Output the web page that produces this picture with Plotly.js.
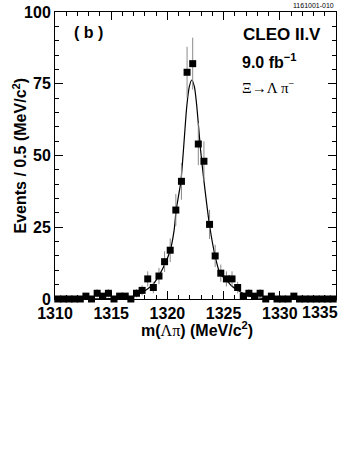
<!DOCTYPE html>
<html>
<head>
<meta charset="utf-8">
<script src="https://cdn.plot.ly/plotly-3.0.1.min.js"></script>
<style>
  html, body { margin: 0; padding: 0; background: #fff; }
  #plot { width: 346px; height: 461px; }
</style>
</head>
<body>
<div id="plot"></div>
<script>
// histogram: 50 bins of 0.5 MeV/c^2 from 1310 to 1335
var binStart = 1310.25;
var binWidth = 0.5;
var counts = [
  0, 0, 0, 0, 0, 1, 0, 2, 1, 2,
  0, 1, 1, 0, 2, 3, 7, 4, 8, 13,
  17, 31, 41, 79, 82, 54, 48, 26, 15, 9,
  7, 7, 4, 1, 2, 1, 2, 0, 1, 0,
  0, 0, 1, 0, 0, 0, 0, 0, 0, 0
];

// fit curve
var fitMass = [1310, 1314, 1315, 1316, 1316.7, 1317.2, 1317.7, 1318.2, 1318.7, 1319.0,
  1319.6, 1320.24, 1320.6, 1320.78, 1321.2, 1321.43, 1321.72, 1321.95, 1322.17, 1322.4,
  1322.62, 1322.95, 1323.24, 1323.75, 1324.26, 1324.7, 1325.24, 1325.7, 1326.2, 1326.7,
  1327.2, 1327.7, 1328.5, 1330, 1335];
var fitEvents = [0, 0.05, 0.1, 0.3, 0.7, 1.3, 2.2, 3.4, 5.0, 6.6,
  10.7, 16.8, 24, 31, 41, 52, 67, 74, 76.3, 74,
  67, 52, 41.5, 25.7, 14.7, 8.7, 6.6, 4.6, 3.2, 2.0,
  1.2, 0.6, 0.2, 0.05, 0];

var xTickVals = [1310, 1315, 1320, 1325, 1330, 1335];
var xTickText = ['1310', '1315', '1320', '1325', '1330', ''];  // 1335 is pulled in, see annotation

var boldFont = { family: 'Liberation Sans, Arial, sans-serif', size: 16, color: '#000', weight: 'bold' };

var fit = {
  x: fitMass,
  y: fitEvents,
  type: 'scatter',
  mode: 'lines',
  line: { color: '#000', width: 1.2, shape: 'spline', smoothing: 0.6 },
  hoverinfo: 'skip'
};

var data = {
  y: counts,
  x0: binStart,
  dx: binWidth,
  type: 'scatter',
  mode: 'markers',
  cliponaxis: false,
  marker: { symbol: 'square', size: 7, color: '#000' },
  error_y: { type: 'sqrt', visible: true, color: '#8a8a8a', thickness: 1, width: 0 }
};

var axisCommon = {
  showline: true,
  linecolor: '#000',
  linewidth: 1,
  mirror: 'allticks',
  ticks: 'inside',
  tickcolor: '#000',
  tickwidth: 1,
  ticklen: 8,
  showgrid: false,
  zeroline: false,
  tickfont: boldFont
};

var layout = {
  width: 346,
  height: 461,
  margin: { l: 55, r: 10, t: 12, b: 162 },
  paper_bgcolor: '#fff',
  plot_bgcolor: '#fff',
  showlegend: false,
  xaxis: Object.assign({}, axisCommon, {
    range: [1310, 1335],
    tickmode: 'array',
    tickvals: xTickVals,
    ticktext: xTickText,
    minor: { dtick: 1, ticks: 'inside', ticklen: 4, tickcolor: '#000' }
  }),
  yaxis: Object.assign({}, axisCommon, {
    range: [0, 100],
    tick0: 0,
    dtick: 25,
    minor: { dtick: 5, ticks: 'inside', ticklen: 4, tickcolor: '#000' }
  }),
  annotations: [
    // axis titles
    { x: 0.507, y: 0, xref: 'paper', yref: 'paper', yanchor: 'middle', yshift: -30,
      text: "m(<span style='font-family:Liberation Serif;font-weight:normal'>Λπ</span>) (MeV/c<sup>2</sup>)",
      showarrow: false, font: boldFont },
    { x: -0.128, y: 0.5, xref: 'paper', yref: 'paper', xanchor: 'center', yanchor: 'middle',
      textangle: -90, text: 'Events / 0.5 (MeV/c<sup>2</sup>)', showarrow: false, font: boldFont },
    { x: 1.014, y: 0, xref: 'paper', yref: 'paper', xanchor: 'right', yanchor: 'middle', yshift: -13,
      text: '1335', showarrow: false, font: boldFont },
    // labels inside the frame
    { x: 1313.0, y: 92.7, xref: 'x', yref: 'y', text: '( b )', showarrow: false,
      font: boldFont },
    { x: 1333.8, y: 92, xref: 'x', yref: 'y', xanchor: 'right', text: 'CLEO II.V', showarrow: false,
      font: { family: boldFont.family, size: 17, color: '#000', weight: 'bold' } },
    { x: 1326.5, y: 83, xref: 'x', yref: 'y', xanchor: 'left', text: '9.0 fb<sup>−1</sup>', showarrow: false,
      font: boldFont },
    { x: 1326.5, y: 74, xref: 'x', yref: 'y', xanchor: 'left', text: 'Ξ→Λ π<sup>−</sup>', showarrow: false,
      font: { family: 'Liberation Serif, serif', size: 15, color: '#000' } },
    { x: 1, y: 1, xref: 'paper', yref: 'paper', xanchor: 'right', yanchor: 'bottom', yshift: 1,
      text: '1161001-010', showarrow: false,
      font: { family: boldFont.family, size: 7, color: '#000' } }
  ]
};

Plotly.newPlot('plot', [fit, data], layout, { staticPlot: true, displayModeBar: false });
</script>
</body>
</html>
